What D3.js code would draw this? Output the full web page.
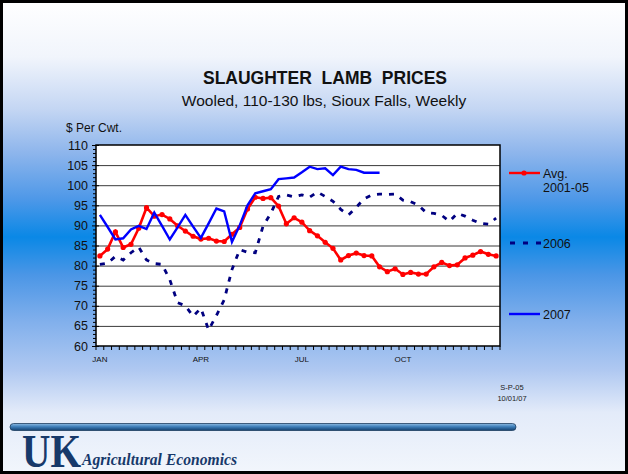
<!DOCTYPE html>
<html>
<head>
<meta charset="utf-8">
<script src="https://cdn.jsdelivr.net/npm/d3@7"></script>
<style>
  html, body { margin: 0; padding: 0; background: #fff; }
  svg { display: block; font-family: "Liberation Sans", Arial, sans-serif; }
</style>
</head>
<body>
<div id="chart"></div>
<script>
// Weekly slaughter lamb prices, $ per cwt.
const weeks = d3.range(1, 53);
const monthLabels = [
  {week: 1, label: 'JAN'},
  {week: 14, label: 'APR'},
  {week: 27, label: 'JUL'},
  {week: 40, label: 'OCT'},
];

const avg0105 = [
  82.4, 84.1, 88.4, 84.5, 85.3, 89.3, 94.4, 92.3, 92.7, 91.6,
  89.9, 88.6, 87.3, 86.6, 86.8, 86.1, 86.0, 87.8, 89.5, 94.1,
  97.0, 96.7, 96.9, 94.8, 90.4, 91.9, 90.8, 88.7, 87.4, 85.8,
  84.3, 81.4, 82.5, 83.1, 82.5, 82.4, 79.7, 78.5, 79.2, 77.8,
  78.3, 77.9, 77.9, 79.7, 80.8, 80.0, 80.2, 81.9, 82.6, 83.5,
  82.8, 82.4,
];

const y2006 = [
  80.3, 80.6, 82.3, 81.4, 83.2, 84.6, 81.4, 80.5, 80.3, 76.5,
  70.8, 70.0, 67.4, 69.4, 64.0, 67.6, 71.5, 79.0, 84.0, 83.3,
  83.2, 89.8, 93.0, 97.2, 97.6, 97.1, 97.6, 97.0, 98.3, 97.2,
  96.0, 94.0, 92.6, 94.5, 96.6, 97.6, 97.8, 97.7, 97.8, 96.3,
  95.9, 95.0, 93.2, 93.0, 92.5, 91.0, 93.0, 92.3, 91.3, 90.5,
  90.3, 91.8,
];

// 2007 stops at the last reported week
const y2007 = [
  92.6, 89.6, 86.5, 86.8, 89.0, 89.9, 89.1, 93.2, 89.9, 86.5,
  89.5, 92.6, 89.7, 86.9, 90.5, 94.2, 93.5, 85.9, 90.0, 95.0,
  98.0, 98.5, 99.0, 101.5, 101.7, 101.9, 103.2, 104.6, 104.0, 104.2,
  102.5, 104.6, 104.0, 103.8, 103.1, 103.1, 103.1,
];

const yTicks = d3.range(60, 111, 5);

const width = 628;
const height = 474;
const plot = {left: 96, right: 500, top: 145, bottom: 346};

const svg = d3.select('#chart')
  .append('svg')
  .attr('width', width)
  .attr('height', height);

const defs = svg.append('defs');

// Slide background: pale at the top, strong blue band through the middle
const bg = defs.append('linearGradient')
  .attr('id', 'bg')
  .attr('x1', 0).attr('y1', 0).attr('x2', 0).attr('y2', 1);
[
  [0, '#ffffff'], [0.12, '#f1f5fc'], [0.23, '#c4d6f3'], [0.32, '#8fb6ec'],
  [0.42, '#4e98e8'], [0.5, '#0a88e6'], [0.58, '#4b96e6'], [0.68, '#82b0ec'],
  [0.78, '#afc8f1'], [0.87, '#e3ebf9'], [1, '#f2f6fc'],
].forEach(([o, c]) => bg.append('stop').attr('offset', o).attr('stop-color', c));

const bar = defs.append('linearGradient')
  .attr('id', 'bar')
  .attr('x1', 0).attr('y1', 0).attr('x2', 0).attr('y2', 1);
[[0, '#8dbbe2'], [0.45, '#3f7fba'], [1, '#123f6e']]
  .forEach(([o, c]) => bar.append('stop').attr('offset', o).attr('stop-color', c));

svg.append('rect')
  .attr('width', width)
  .attr('height', height)
  .attr('fill', 'url(#bg)');

// Scales: one band per week, points drawn at band centres
const x = d3.scaleBand()
  .domain(weeks)
  .range([plot.left, plot.right])
  .padding(0);
const xc = d => x(d) + x.bandwidth() / 2;

const y = d3.scaleLinear()
  .domain([60, 110])
  .range([plot.bottom, plot.top]);

svg.append('rect')
  .attr('x', plot.left)
  .attr('y', plot.top)
  .attr('width', plot.right - plot.left)
  .attr('height', plot.bottom - plot.top)
  .attr('fill', '#fff');

// Horizontal gridlines
svg.append('g')
  .selectAll('line')
  .data(yTicks.slice(1, -1))
  .enter()
  .append('line')
  .attr('x1', plot.left)
  .attr('x2', plot.right)
  .attr('y1', d => y(d) + 0.5)
  .attr('y2', d => y(d) + 0.5)
  .attr('stroke', '#3a3a3a')
  .attr('stroke-width', 1);

// Y axis: major ticks every 5 with minor ticks every 1
const yAxis = svg.append('g')
  .attr('transform', `translate(${plot.left},0)`)
  .call(d3.axisLeft(y).tickValues(yTicks).tickSize(4).tickPadding(4));
yAxis.select('.domain').remove();
yAxis.selectAll('.tick line').attr('x2', -4).attr('x1', 3).attr('stroke', '#000');
yAxis.selectAll('.tick text')
  .attr('font-size', 12.5)
  .attr('fill', '#111')
  .attr('font-family', '"Liberation Sans", Arial, sans-serif');

svg.append('g')
  .selectAll('line')
  .data(d3.range(60, 111, 1).filter(v => v % 5 !== 0))
  .enter()
  .append('line')
  .attr('x1', plot.left - 3)
  .attr('x2', plot.left)
  .attr('y1', d => y(d) + 0.5)
  .attr('y2', d => y(d) + 0.5)
  .attr('stroke', '#000');

// X axis: a tick at every week boundary, month labels under some weeks
svg.append('g')
  .selectAll('line')
  .data(weeks.concat([53]))
  .enter()
  .append('line')
  .attr('x1', d => d === 53 ? plot.right : x(d))
  .attr('x2', d => d === 53 ? plot.right : x(d))
  .attr('y1', plot.bottom)
  .attr('y2', plot.bottom + 4)
  .attr('stroke', '#000');

svg.append('g')
  .selectAll('text')
  .data(monthLabels)
  .enter()
  .append('text')
  .attr('x', d => xc(d.week))
  .attr('y', 362)
  .attr('text-anchor', 'middle')
  .attr('font-size', 8)
  .attr('fill', '#111')
  .text(d => d.label);

// Plot frame
svg.append('rect')
  .attr('x', plot.left)
  .attr('y', plot.top)
  .attr('width', plot.right - plot.left)
  .attr('height', plot.bottom - plot.top)
  .attr('fill', 'none')
  .attr('stroke', '#000')
  .attr('stroke-width', 1.5);

const line = d3.line()
  .x((d, i) => xc(weeks[i]))
  .y(d => y(d));

svg.append('path')
  .datum(y2006)
  .attr('d', line)
  .attr('fill', 'none')
  .attr('stroke', '#000080')
  .attr('stroke-width', 2.8)
  .attr('stroke-dasharray', '5,7');

svg.append('path')
  .datum(avg0105)
  .attr('d', line)
  .attr('fill', 'none')
  .attr('stroke', '#ff0000')
  .attr('stroke-width', 2.6);

svg.append('g')
  .selectAll('circle')
  .data(avg0105)
  .enter()
  .append('circle')
  .attr('cx', (d, i) => xc(weeks[i]))
  .attr('cy', d => y(d))
  .attr('r', 2.6)
  .attr('fill', '#ff0000');

svg.append('path')
  .datum(y2007)
  .attr('d', line)
  .attr('fill', 'none')
  .attr('stroke', '#0000ff')
  .attr('stroke-width', 2.4);

// Legend on the right
const legend = svg.append('g').attr('font-size', 12.5).attr('fill', '#111');

legend.append('line')
  .attr('x1', 509).attr('x2', 540).attr('y1', 173).attr('y2', 173)
  .attr('stroke', '#ff0000').attr('stroke-width', 2.4);
legend.append('circle')
  .attr('cx', 524).attr('cy', 173).attr('r', 2.6).attr('fill', '#ff0000');
legend.append('text').attr('x', 543).attr('y', 178).text('Avg.');
legend.append('text').attr('x', 543).attr('y', 192).text('2001-05');

legend.append('line')
  .attr('x1', 510).attr('x2', 541).attr('y1', 243).attr('y2', 243)
  .attr('stroke', '#000080').attr('stroke-width', 2.8)
  .attr('stroke-dasharray', '5,8');
legend.append('text').attr('x', 543).attr('y', 248).text('2006');

legend.append('line')
  .attr('x1', 509).attr('x2', 540).attr('y1', 314).attr('y2', 314)
  .attr('stroke', '#0000ff').attr('stroke-width', 2.4);
legend.append('text').attr('x', 543).attr('y', 319).text('2007');

// Titles
svg.append('text')
  .attr('x', 325).attr('y', 84)
  .attr('text-anchor', 'middle')
  .attr('font-size', 17.5)
  .attr('font-weight', 'bold')
  .attr('fill', '#111')
  .attr('xml:space', 'preserve')
  .text('SLAUGHTER  LAMB  PRICES');

svg.append('text')
  .attr('x', 324).attr('y', 106)
  .attr('text-anchor', 'middle')
  .attr('font-size', 15.5)
  .attr('fill', '#111')
  .text('Wooled, 110-130 lbs, Sioux Falls, Weekly');

svg.append('text')
  .attr('x', 66).attr('y', 132)
  .attr('font-size', 12)
  .attr('fill', '#111')
  .text('$ Per Cwt.');

// Source note
svg.append('text')
  .attr('x', 512).attr('y', 390)
  .attr('text-anchor', 'middle')
  .attr('font-size', 7.5)
  .attr('fill', '#222')
  .text('S-P-05');
svg.append('text')
  .attr('x', 512).attr('y', 401)
  .attr('text-anchor', 'middle')
  .attr('font-size', 7.5)
  .attr('fill', '#222')
  .text('10/01/07');

// Footer bar and UK logo
svg.append('rect')
  .attr('x', 10).attr('y', 423.5)
  .attr('width', 506).attr('height', 7)
  .attr('rx', 3.5)
  .attr('fill', 'url(#bar)')
  .attr('stroke', '#1d3d60')
  .attr('stroke-width', 0.8);

svg.append('text')
  .attr('x', 22).attr('y', 467)
  .attr('font-family', '"Liberation Serif", "Times New Roman", serif')
  .attr('font-weight', 'bold')
  .attr('font-size', 46)
  .attr('textLength', 59)
  .attr('lengthAdjust', 'spacingAndGlyphs')
  .attr('fill', '#17396a')
  .text('UK');

svg.append('text')
  .attr('x', 82).attr('y', 465)
  .attr('font-family', '"Liberation Serif", "Times New Roman", serif')
  .attr('font-style', 'italic')
  .attr('font-weight', 'bold')
  .attr('font-size', 16)
  .attr('textLength', 155)
  .attr('lengthAdjust', 'spacingAndGlyphs')
  .attr('fill', '#17396a')
  .text('Agricultural Economics');

// Slide border
svg.append('rect')
  .attr('x', 1.5).attr('y', 1.5)
  .attr('width', width - 3).attr('height', height - 3)
  .attr('fill', 'none')
  .attr('stroke', '#000')
  .attr('stroke-width', 3);
</script>
</body>
</html>
